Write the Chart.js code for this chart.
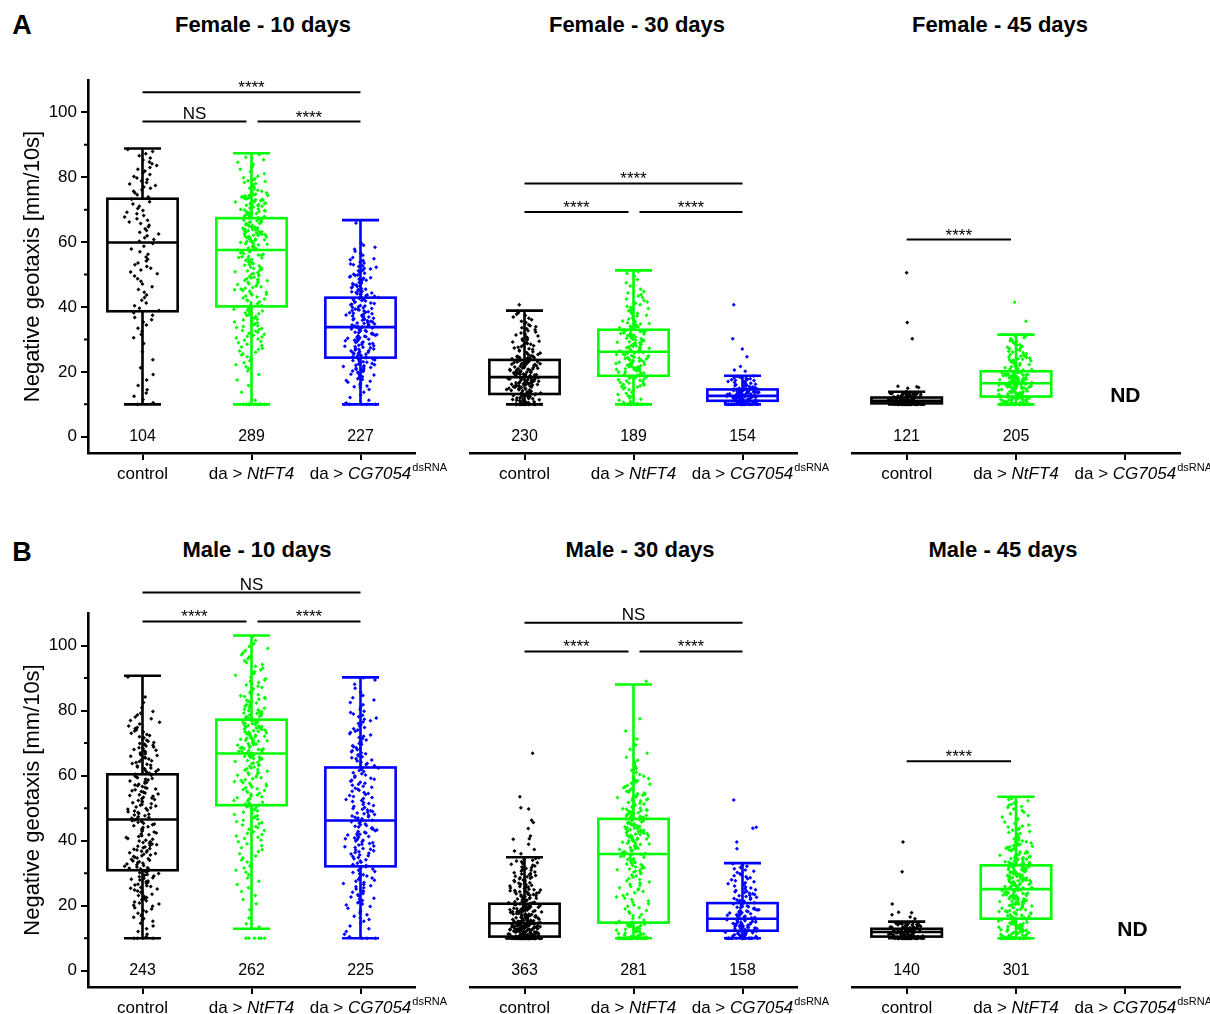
<!DOCTYPE html>
<html>
<head>
<meta charset="utf-8">
<script src="https://cdn.jsdelivr.net/npm/chart.js@4.4.1/dist/chart.umd.min.js"></script>
<style>
  body { margin: 0; background: #fff; width: 1210px; height: 1014px; overflow: hidden; position: relative; font-family: 'Liberation Sans', Arial, sans-serif; }
  canvas { position: absolute; }
  .title { position: absolute; font-weight: bold; font-size: 22px; transform: translate(-50%, -50%); white-space: nowrap; }
  .letter { position: absolute; font-weight: bold; font-size: 27px; transform: translate(-50%, -50%); }
</style>
</head>
<body>
<div class="letter" style="left:22px;top:25px">A</div>
<div class="letter" style="left:22px;top:552px">B</div>
<div id="titles"></div>

<script>
// categories
const groupPrefix = ['control', 'da > ', 'da > '];
const groupGene = ['', 'NtFT4', 'CG7054'];
const groupSup = ['', '', 'dsRNA'];
const groupColors = ['#000000', '#00ff00', '#0000ff'];

const panelTitles = ['Female - 10 days', 'Female - 30 days', 'Female - 45 days',
                     'Male - 10 days', 'Male - 30 days', 'Male - 45 days'];
const yTicks = [0, 20, 40, 60, 80, 100];
const yMinorTicks = [10, 30, 50, 70, 90];
const axisLabel = 'Negative geotaxis [mm/10s]';

// box stats per group: [whisker low, Q1, median, Q3, whisker high]; null = ND
const female10Stats = [[10, 38.7, 59.9, 73.4, 88.9], [10, 40.2, 57.6, 67.4, 87.4], [10, 24.4, 33.8, 42.9, 66.8]];
const female30Stats = [[10, 13.2, 18.4, 23.7, 38.9], [10, 18.8, 26.2, 33.0, 51.3], [10, 11.1, 12.6, 14.6, 18.8]];
const female45Stats = [[10, 10.3, 11.1, 12.1, 13.9], [10, 12.4, 16.5, 20.2, 31.5], null];
const male10Stats = [[10, 30.9, 46.5, 60.4, 90.7], [12.9, 50.9, 66.8, 77.2, 103.1], [10, 32.1, 46.2, 62.5, 90.2]];
const male30Stats = [[10, 10.5, 14.6, 20.6, 34.9], [10, 14.8, 35.9, 46.7, 88.0], [10, 12.3, 16.0, 20.8, 33.1]];
const male45Stats = [[10, 10.5, 11.9, 12.9, 15.1], [10, 16.0, 25.1, 32.4, 53.5], null];

// number of flies per group
const female10N = [104, 289, 227];
const female30N = [230, 189, 154];
const female45N = [121, 205, null];
const male10N = [243, 262, 225];
const male30N = [363, 281, 158];
const male45N = [140, 301, null];

// individual flies, read as counts: flies sitting at the 10 mm floor,
// then counts per 5 mm/10s bin starting at 10, then single points beyond the whiskers
const floorValue = 10;
const binStart = 10;
const binSize = 5;

const female10Floor = [1, 12, 5];
const female10Bins = [
  [5, 3, 2, 2, 5, 7, 6, 6, 9, 6, 9, 10, 7, 11, 9, 6],
  [2, 3, 8, 12, 17, 18, 17, 22, 20, 26, 38, 32, 35, 17, 7, 3],
  [6, 18, 28, 30, 32, 30, 26, 24, 19, 8, 0, 1]
];
const female10Outliers = [[], [], []];

const female30Floor = [25, 12, 30];
const female30Bins = [
  [45, 60, 52, 22, 16, 9],
  [14, 24, 38, 32, 34, 17, 11, 5, 2],
  [90, 27]
];
const female30Outliers = [[40.7], [], [20.2, 20.6, 21.7, 24.7, 27.1, 30.2, 40.7]];

const female45Floor = [40, 22, 0];
const female45Bins = [[74], [55, 72, 30, 20, 4], []];
const female45Outliers = [[50.6, 35.2, 30.2, 15.6, 15.4, 15.2, 15.0], [41.5, 35.6], []];

const male10Floor = [4, 6, 3];
const male10Bins = [
  [6, 12, 15, 20, 22, 22, 18, 20, 20, 20, 18, 19, 14, 9, 3, 0, 1],
  [2, 2, 4, 5, 8, 8, 12, 14, 18, 18, 20, 32, 32, 30, 18, 13, 9, 8, 3],
  [6, 10, 14, 15, 14, 20, 22, 22, 16, 16, 14, 16, 13, 12, 7, 4, 1]
];
const male10Outliers = [[], [], []];

const male30Floor = [75, 40, 20];
const male30Bins = [
  [115, 70, 40, 30, 19],
  [32, 12, 12, 14, 22, 27, 36, 34, 22, 14, 8, 4, 2, 1, 0, 0, 1],
  [50, 35, 24, 16, 8]
];
const male30Outliers = [
  [66.9, 53.5, 50.1, 49.7, 46.3, 45.6, 43.7, 41.4, 40.6, 40.4, 38.9, 37.3, 36.8, 36.0],
  [],
  [52.5, 44.1, 43.8, 39.6, 37.5]
];

const male45Floor = [45, 30, 0];
const male45Bins = [[87], [38, 35, 45, 48, 45, 25, 15, 10, 10], []];
const male45Outliers = [[39.6, 30.4, 20.5, 18.0, 17.8, 17.2, 16.5, 16.0], [], []];

// significance: [from group, to group, label]
const female10Sig = [[0, 2, '****'], [0, 1, 'NS'], [1, 2, '****']];
const female30Sig = [[0, 2, '****'], [0, 1, '****'], [1, 2, '****']];
const female45Sig = [[0, 1, '****']];
const male10Sig = [[0, 2, 'NS'], [0, 1, '****'], [1, 2, '****']];
const male30Sig = [[0, 2, 'NS'], [0, 1, '****'], [1, 2, '****']];
const male45Sig = [[0, 1, '****']];

// ---- layout (kept apart from the data) ----
const bracketHeights = [[106.2, 97.2, 97.2], [78.1, 69.3, 69.3], [60.8], [116.3, 107.4, 107.4], [107.0, 98.2, 98.2], [64.4]];
const ndHeight = 12.6;
const panelLayout = [
  { left: 0, top: 0, w: 450, h: 503, pl: 0, pr: 35, pt: 80, yAxis: true, tx: 263, ty: 25, ndx: 0 },
  { left: 450, top: 0, w: 380, h: 503, pl: 20, pr: 33, pt: 80, yAxis: false, tx: 637, ty: 25, ndx: 0 },
  { left: 832, top: 0, w: 378, h: 503, pl: 20, pr: 30, pt: 80, yAxis: false, tx: 1000, ty: 25, ndx: 0 },
  { left: 0, top: 530, w: 450, h: 507, pl: 0, pr: 35, pt: 83, yAxis: true, tx: 257, ty: 550, ndx: 0 },
  { left: 450, top: 530, w: 380, h: 507, pl: 20, pr: 33, pt: 83, yAxis: false, tx: 640, ty: 550, ndx: 0 },
  { left: 832, top: 530, w: 378, h: 507, pl: 20, pr: 30, pt: 83, yAxis: false, tx: 1003, ty: 550, ndx: 0.065 }
];
const boxWidth = 0.645;
const capWidth = 0.34;
const jitterHalf = 0.13;
const FONT = "'Liberation Sans', Arial, sans-serif";

const panels = [
  { stats: female10Stats, n: female10N, floor: female10Floor, bins: female10Bins, out: female10Outliers, sig: female10Sig },
  { stats: female30Stats, n: female30N, floor: female30Floor, bins: female30Bins, out: female30Outliers, sig: female30Sig },
  { stats: female45Stats, n: female45N, floor: female45Floor, bins: female45Bins, out: female45Outliers, sig: female45Sig },
  { stats: male10Stats, n: male10N, floor: male10Floor, bins: male10Bins, out: male10Outliers, sig: male10Sig },
  { stats: male30Stats, n: male30N, floor: male30Floor, bins: male30Bins, out: male30Outliers, sig: male30Sig },
  { stats: male45Stats, n: male45N, floor: male45Floor, bins: male45Bins, out: male45Outliers, sig: male45Sig }
];

Chart.defaults.font.family = FONT;
Chart.defaults.color = '#000';

// horizontal scatter of one fly: a fixed hash so the picture is the same on every load
function spread(i) {
  const h = Math.sin(i * 12.9898 + 78.233) * 43758.5453;
  return h - Math.floor(h);
}

// spread the flies of one group over the box width (beeswarm-like layout)
function buildPoints(p, g) {
  const s = p.stats[g];
  const pts = [];
  let idx = g * 977 + 1;
  const jit = () => {
    idx += 2;
    return (spread(idx) + spread(idx + 1) - 1) * jitterHalf * 1.3;
  };
  for (let k = 0; k < p.floor[g]; k++) pts.push({ x: g + jit(), y: floorValue });
  p.bins[g].forEach((count, b) => {
    const lo = Math.max(binStart + b * binSize, s[0]);
    const hi = Math.min(binStart + (b + 1) * binSize, s[4]);
    for (let k = 0; k < count; k++) pts.push({ x: g + jit(), y: lo + (k + 0.5) / count * (hi - lo) });
  });
  p.out[g].forEach(v => pts.push({ x: g + jit(), y: v }));
  return pts;
}

function drawGroupLabel(ctx, cx, y, g) {
  const normal = '17px ' + FONT;
  const italic = 'italic 17px ' + FONT;
  ctx.font = normal;
  const w1 = ctx.measureText(groupPrefix[g]).width;
  ctx.font = italic;
  const w2 = ctx.measureText(groupGene[g]).width;
  let x = cx - (w1 + w2) / 2;
  ctx.textAlign = 'left';
  ctx.textBaseline = 'alphabetic';
  ctx.font = normal;
  ctx.fillText(groupPrefix[g], x, y);
  x += w1;
  ctx.font = italic;
  ctx.fillText(groupGene[g], x, y);
  x += w2;
  if (groupSup[g]) {
    ctx.font = '11px ' + FONT;
    ctx.fillText(groupSup[g], x + 1, y - 8);
  }
}

function boxPlugin(p, pi) {
  return {
    id: 'boxes' + pi,
    beforeDatasetsDraw(chart) {
      const { ctx, scales: { x, y } } = chart;
      ctx.save();
      ctx.lineWidth = 2.6;
      p.stats.forEach((s, g) => {
        if (!s) return;
        const cx = x.getPixelForValue(g);
        const bh = x.getPixelForValue(g + boxWidth / 2) - cx;
        const ch = x.getPixelForValue(g + capWidth / 2) - cx;
        const [lo, q1, med, q3, hi] = s.map(v => y.getPixelForValue(v));
        ctx.strokeStyle = groupColors[g];
        ctx.beginPath();
        ctx.moveTo(cx, q3); ctx.lineTo(cx, hi);
        ctx.moveTo(cx, q1); ctx.lineTo(cx, lo);
        ctx.moveTo(cx - ch, hi); ctx.lineTo(cx + ch, hi);
        ctx.moveTo(cx - ch, lo); ctx.lineTo(cx + ch, lo);
        ctx.moveTo(cx - bh, med); ctx.lineTo(cx + bh, med);
        ctx.stroke();
        ctx.strokeRect(cx - bh, q3, 2 * bh, q1 - q3);
      });
      ctx.restore();
    },
    afterDraw(chart) {
      const { ctx, chartArea, scales: { x, y } } = chart;
      ctx.save();
      ctx.strokeStyle = '#000';
      ctx.fillStyle = '#000';
      // minor ticks on the y axis
      if (panelLayout[pi].yAxis) {
        ctx.lineWidth = 2;
        ctx.beginPath();
        yMinorTicks.forEach(v => {
          const py = y.getPixelForValue(v);
          ctx.moveTo(chartArea.left - 4, py);
          ctx.lineTo(chartArea.left, py);
        });
        ctx.stroke();
      }
      // significance bars
      p.sig.forEach((sg, k) => {
        const [a, b, label] = sg;
        const py = y.getPixelForValue(bracketHeights[pi][k]);
        const x1 = x.getPixelForValue(a) + (a === 1 ? 6 : 0);
        const x2 = x.getPixelForValue(b) - (b === 1 ? 5 : 0);
        ctx.lineWidth = 2;
        ctx.beginPath();
        ctx.moveTo(x1, py); ctx.lineTo(x2, py);
        ctx.stroke();
        ctx.font = '17px ' + FONT;
        ctx.textAlign = 'center';
        ctx.textBaseline = 'alphabetic';
        ctx.fillText(label, (x1 + x2) / 2, label === 'NS' ? py - 3 : py + 1);
      });
      // n per group / ND
      p.n.forEach((n, g) => {
        ctx.textAlign = 'center';
        ctx.textBaseline = 'middle';
        if (n === null) {
          ctx.font = 'bold 21px ' + FONT;
          ctx.fillText('ND', x.getPixelForValue(g + panelLayout[pi].ndx), y.getPixelForValue(ndHeight));
        } else {
          ctx.font = '16px ' + FONT;
          ctx.fillText(String(n), x.getPixelForValue(g), y.getPixelForValue(0));
        }
      });
      // category labels
      groupPrefix.forEach((_, g) => drawGroupLabel(ctx, x.getPixelForValue(g), chartArea.bottom + 26, g));
      ctx.restore();
    }
  };
}

const titleBox = document.getElementById('titles');

panels.forEach((p, pi) => {
  const L = panelLayout[pi];
  const t = document.createElement('div');
  t.className = 'title';
  t.style.left = L.tx + 'px';
  t.style.top = L.ty + 'px';
  t.textContent = panelTitles[pi];
  titleBox.appendChild(t);

  const canvas = document.createElement('canvas');
  canvas.width = L.w;
  canvas.height = L.h;
  canvas.style.left = L.left + 'px';
  canvas.style.top = L.top + 'px';
  document.body.appendChild(canvas);

  const datasets = [];
  p.stats.forEach((s, g) => {
    if (!s) return;
    datasets.push({
      label: groupPrefix[g] + groupGene[g],
      data: buildPoints(p, g),
      backgroundColor: groupColors[g],
      borderWidth: 0,
      pointStyle: 'rectRot',
      pointRadius: 2,
      pointHoverRadius: 2
    });
  });

  new Chart(canvas, {
    type: 'scatter',
    data: { datasets },
    options: {
      responsive: false,
      animation: false,
      events: [],
      layout: { padding: { left: L.pl, right: L.pr, top: L.pt, bottom: 0 } },
      plugins: { legend: { display: false }, tooltip: { enabled: false } },
      scales: {
        x: {
          type: 'linear',
          min: -0.5,
          max: 2.5,
          afterBuildTicks: ax => { ax.ticks = [0, 1, 2].map(v => ({ value: v })); },
          afterFit: ax => { ax.height = 50; },
          ticks: { display: false },
          grid: { drawOnChartArea: false, color: '#000', lineWidth: 2, tickLength: 7 },
          border: { display: true, color: '#000', width: 2.6 }
        },
        y: {
          type: 'linear',
          display: L.yAxis,
          min: -5,
          max: 110,
          afterBuildTicks: ax => { ax.ticks = yTicks.map(v => ({ value: v })); },
          afterFit: ax => { ax.width = L.yAxis ? 88 : 0; },
          ticks: { font: { size: 17 }, color: '#000', padding: 4 },
          grid: { drawOnChartArea: false, color: '#000', lineWidth: 2, tickLength: 7 },
          border: { display: true, color: '#000', width: 2.6 },
          title: { display: true, text: axisLabel, font: { size: 22 }, color: '#000', padding: { top: 20, bottom: 0 } }
        }
      }
    },
    plugins: [boxPlugin(p, pi)]
  });
});
</script>
</body>
</html>
